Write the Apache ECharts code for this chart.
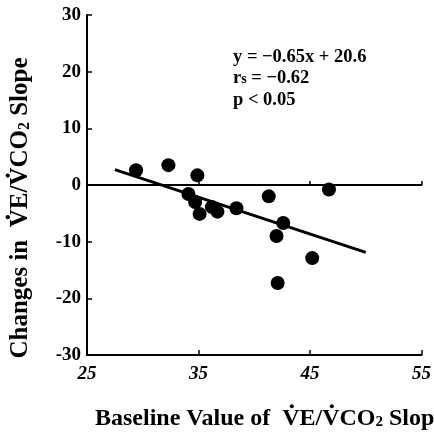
<!DOCTYPE html>
<html>
<head>
<meta charset="utf-8">
<script src="https://cdn.jsdelivr.net/npm/echarts@6/dist/echarts.min.js"></script>
<style>html,body{margin:0;padding:0;background:#fff}#c{width:434px;height:436px}</style>
</head>
<body>
<div id="c"></div>
<script>
// Data
const baselineX = [29.4, 32.3, 34.9, 34.1, 34.7, 35.1, 36.2, 36.7, 38.4, 41.3, 42.6, 42.0, 45.2, 42.1, 46.7];
const changeY   = [2.6, 3.5, 1.7, -1.6, -3.0, -5.1, -3.9, -4.7, -4.1, -2.0, -6.7, -9.0, -12.9, -17.3, -0.8];
const fitSlope = [-0.65];
const fitIntercept = [20.6];
const fitRangeX = [27.5, 50];
const xTicks = [25, 35, 45, 55];
const yTicks = [-30, -20, -10, 0, 10, 20, 30];

const points = baselineX.map((x, i) => [x, changeY[i]]);
const fitLine = fitRangeX.map(x => [x, fitSlope[0] * x + fitIntercept[0]]);

const FONT = '"Liberation Serif","Times New Roman",serif';
const ctx = document.createElement('canvas').getContext('2d');
function tw(t, size) { ctx.font = 'bold ' + size + 'px ' + FONT; return ctx.measureText(t).width; }

// Build an axis title "<prefix>V̇E/V̇CO₂ Slope" with dots drawn above the V's
function axisTitle(prefix, size, subSize, centered) {
  const pre = tw(prefix, size);
  const wV = tw('V', size);
  const wEs = tw('E/', size);
  const total = tw(prefix + 'VE/VCO', size) + tw('2', subSize) + tw(' Slope', size);
  const x0 = centered ? -total / 2 : 0;
  const capH = size * 0.66;
  const dotY = -capH / 2 - size * 0.2;
  const r = size * 0.085;
  return [
    {type: 'text', x: x0, y: 0, style: {
      text: prefix + 'VE/VCO{sub|2} Slope', font: 'bold ' + size + 'px ' + FONT, fill: '#000',
      verticalAlign: 'middle', align: 'left',
      rich: {sub: {font: 'bold ' + subSize + 'px ' + FONT, fill: '#000', padding: [size * 0.3, 0, 0, 0]}}
    }},
    {type: 'circle', shape: {cx: x0 + pre + wV / 2 + 1, cy: dotY, r: r}, style: {fill: '#000'}},
    {type: 'circle', shape: {cx: x0 + pre + wV + wEs + wV / 2 + 1, cy: dotY, r: r}, style: {fill: '#000'}}
  ];
}

const chart = echarts.init(document.getElementById('c'), null, {renderer: 'canvas'});
chart.setOption({
  animation: false,
  backgroundColor: '#fff',
  grid: {left: 87, right: 9, top: 15, bottom: 81, containLabel: false},
  xAxis: [{
    type: 'value', min: xTicks[0], max: xTicks[xTicks.length - 1], interval: 10,
    position: 'bottom',
    axisLine: {onZero: false, lineStyle: {color: '#000', width: 2}},
    axisTick: {inside: true, length: 5, lineStyle: {color: '#000', width: 1.5}},
    axisLabel: {color: '#000', fontFamily: FONT, fontWeight: 'bold', fontStyle: 'italic', fontSize: 19, margin: 10},
    splitLine: {show: false}
  }, {
    type: 'value', min: xTicks[0], max: xTicks[xTicks.length - 1], interval: 10,
    position: 'top',
    axisLine: {onZero: true, lineStyle: {color: '#000', width: 2}},
    axisTick: {inside: false, length: 4, lineStyle: {color: '#000', width: 1.5}},
    axisLabel: {show: false},
    splitLine: {show: false}
  }],
  yAxis: {
    type: 'value', min: yTicks[0], max: yTicks[yTicks.length - 1], interval: 10,
    axisLine: {lineStyle: {color: '#000', width: 2}},
    axisTick: {inside: true, length: 5, lineStyle: {color: '#000', width: 1.5}},
    axisLabel: {color: '#000', fontFamily: FONT, fontWeight: 'bold', fontSize: 19, margin: 6},
    splitLine: {show: false}
  },
  series: [{
    type: 'scatter', xAxisIndex: 0, data: points, symbolSize: 14,
    itemStyle: {color: '#000', opacity: 1}
  }, {
    type: 'line', xAxisIndex: 0, data: fitLine, symbol: 'none',
    lineStyle: {color: '#000', width: 3}
  }],
  graphic: [{
    type: 'text', left: 233, top: 46,
    style: {
      text: 'y = \u22120.65x + 20.6\n{r|r}{s|s} = \u22120.62\np < 0.05',
      font: 'bold 18.5px ' + FONT, fill: '#000', lineHeight: 21.5,
      rich: {r: {font: 'bold 18.5px ' + FONT, fill: '#000'}, s: {font: 'bold 14px ' + FONT, fill: '#000', padding: [3, 0, 0, 0]}}
    }
  }, {
    type: 'group', x: 95, y: 419,
    children: axisTitle('Baseline Value of  ', 24, 15, false)
  }, {
    type: 'group', x: 21, y: 208, rotation: Math.PI / 2,
    children: axisTitle('Changes in  ', 25, 16, true)
  }]
});
</script>
</body>
</html>
